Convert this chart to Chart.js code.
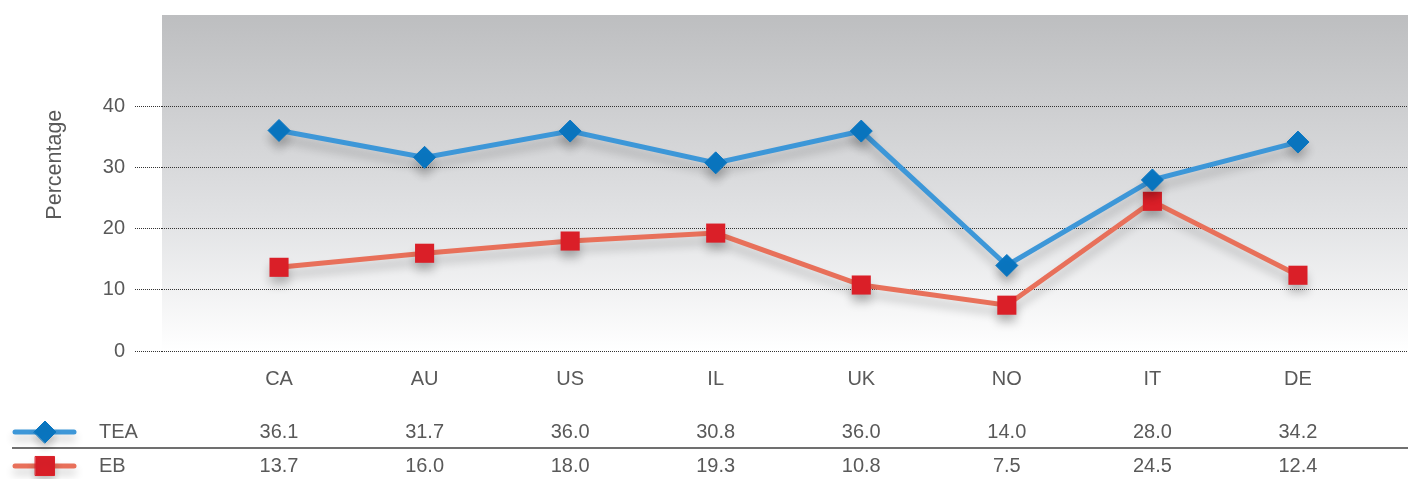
<!DOCTYPE html>
<html>
<head>
<meta charset="utf-8">
<script src="https://cdn.jsdelivr.net/npm/chart.js@4/dist/chart.umd.min.js"></script>
<style>
  html, body { margin: 0; padding: 0; background: #fff; overflow: hidden; }
  #wrap { width: 1408px; height: 479px; }
</style>
</head>
<body>
<div id="wrap"><canvas id="tenureChart"></canvas></div>
<script>
// категории и ряды
const countries = ['CA', 'AU', 'US', 'IL', 'UK', 'NO', 'IT', 'DE'];
const teaValues = [36.1, 31.7, 36.0, 30.8, 36.0, 14.0, 28.0, 34.2];
const ebValues  = [13.7, 16.0, 18.0, 19.3, 10.8, 7.5, 24.5, 12.4];
const yTicks    = [0, 10, 20, 30, 40];

const textColor = '#595959';
const fontFamily = '"Liberation Sans", Arial, sans-serif';

const ctx = document.getElementById('tenureChart').getContext('2d');

// фон с градиентом и подпись оси Y
const backgroundPlugin = {
  id: 'bgGradient',
  beforeDraw(chart) {
    const { ctx, chartArea } = chart;
    const g = ctx.createLinearGradient(0, chartArea.top, 0, chartArea.bottom);
    g.addColorStop(0, '#bdbec0');
    g.addColorStop(0.6, '#e1e2e4');
    g.addColorStop(1, '#ffffff');
    ctx.save();
    ctx.fillStyle = g;
    ctx.fillRect(chartArea.left, chartArea.top, chartArea.right - chartArea.left, chartArea.bottom - chartArea.top);
    ctx.restore();
  },
  afterDraw(chart) {
    const { ctx, scales } = chart;
    ctx.save();
    ctx.fillStyle = textColor;
    ctx.font = '21.5px ' + fontFamily;
    ctx.translate(55, scales.y.getPixelForValue(30.5));
    ctx.rotate(-Math.PI / 2);
    ctx.textAlign = 'center';
    ctx.textBaseline = 'middle';
    ctx.fillText('Percentage', 0, 0);
    ctx.restore();
  }
};

// тень под линиями
const shadowPlugin = {
  id: 'lineShadow',
  beforeDatasetsDraw(chart) {
    const c = chart.ctx;
    c.save();
    c.shadowColor = 'rgba(0,0,0,0.22)';
    c.shadowBlur = 10;
    c.shadowOffsetY = 8;
  },
  afterDatasetsDraw(chart) {
    chart.ctx.restore();
  }
};

// таблица значений под графиком
const tablePlugin = {
  id: 'dataTable',
  afterDraw(chart) {
    const { ctx, scales } = chart;
    const rows = [
      { label: 'TEA', values: teaValues, ds: chart.data.datasets[0], y: 432 },
      { label: 'EB',  values: ebValues,  ds: chart.data.datasets[1], y: 466 }
    ];
    ctx.save();
    // разделитель
    ctx.strokeStyle = '#707070';
    ctx.lineWidth = 2;
    ctx.beginPath();
    ctx.moveTo(12, 448);
    ctx.lineTo(chart.width, 448);
    ctx.stroke();

    rows.forEach(row => {
      // маркер легенды
      ctx.save();
      ctx.shadowColor = 'rgba(0,0,0,0.2)';
      ctx.shadowBlur = 8;
      ctx.shadowOffsetY = 6;
      ctx.strokeStyle = row.ds.borderColor;
      ctx.lineWidth = 5;
      ctx.lineCap = 'round';
      ctx.beginPath();
      ctx.moveTo(15, row.y);
      ctx.lineTo(74, row.y);
      ctx.stroke();
      ctx.fillStyle = row.ds.pointBackgroundColor;
      ctx.strokeStyle = row.ds.pointBackgroundColor;
      ctx.lineWidth = 1;
      Chart.helpers.drawPoint(ctx, {
        pointStyle: row.ds.pointStyle,
        radius: row.ds.pointRadius,
        rotation: 0,
        borderWidth: 1
      }, 45, row.y);
      ctx.restore();

      ctx.fillStyle = textColor;
      ctx.font = '20px ' + fontFamily;
      ctx.textBaseline = 'middle';
      ctx.textAlign = 'left';
      ctx.fillText(row.label, 99, row.y);
      ctx.textAlign = 'center';
      row.values.forEach((v, i) => {
        ctx.fillText(v.toFixed(1), scales.x.getPixelForValue(i), row.y);
      });
    });
    ctx.restore();
  }
};

new Chart(ctx, {
  type: 'line',
  data: {
    datasets: [
      {
        label: 'TEA',
        data: teaValues.map((v, i) => ({ x: i, y: v })),
        borderColor: '#3d97d8',
        borderWidth: 5,
        pointStyle: 'rectRot',
        pointRadius: 11,
        pointBackgroundColor: '#0a76c1',
        pointBorderColor: '#0a76c1',
        pointBorderWidth: 1,
        tension: 0
      },
      {
        label: 'EB',
        data: ebValues.map((v, i) => ({ x: i, y: v })),
        borderColor: '#e8705a',
        borderWidth: 5,
        pointStyle: 'rect',
        pointRadius: 13.5,
        pointBackgroundColor: '#da1f28',
        pointBorderColor: '#da1f28',
        pointBorderWidth: 0,
        tension: 0
      }
    ]
  },
  options: {
    responsive: true,
    maintainAspectRatio: false,
    animation: false,
    layout: { autoPadding: false, padding: { top: 15, right: 0, bottom: 88, left: 0 } },
    plugins: {
      legend: { display: false },
      tooltip: { enabled: false }
    },
    scales: {
      x: {
        type: 'linear',
        min: -0.804,
        max: 7.756,
        afterBuildTicks: scale => {
          scale.ticks = countries.map((c, i) => ({ value: i }));
        },
        afterFit: scale => {
          scale.height = 40;
          scale.paddingLeft = 0;
          scale.paddingRight = 0;
        },
        ticks: {
          autoSkip: false,
          maxRotation: 0,
          padding: 16,
          color: textColor,
          font: { family: fontFamily, size: 20 },
          callback: v => countries[v]
        },
        grid: { display: false, drawTicks: false },
        border: { display: false }
      },
      y: {
        min: 0,
        max: 55,
        afterBuildTicks: scale => {
          scale.ticks = yTicks.map(v => ({ value: v }));
        },
        afterFit: scale => {
          scale.width = 162;
          scale.paddingTop = 0;
          scale.paddingBottom = 0;
        },
        ticks: {
          padding: 10,
          color: textColor,
          font: { family: fontFamily, size: 20 }
        },
        grid: {
          color: '#333333',
          lineWidth: 1,
          tickLength: 27,
          tickColor: '#333333',
          tickBorderDash: [1, 1]
        },
        border: { display: false, dash: [1, 1] }
      }
    }
  },
  plugins: [backgroundPlugin, shadowPlugin, tablePlugin]
});
</script>
</body>
</html>
